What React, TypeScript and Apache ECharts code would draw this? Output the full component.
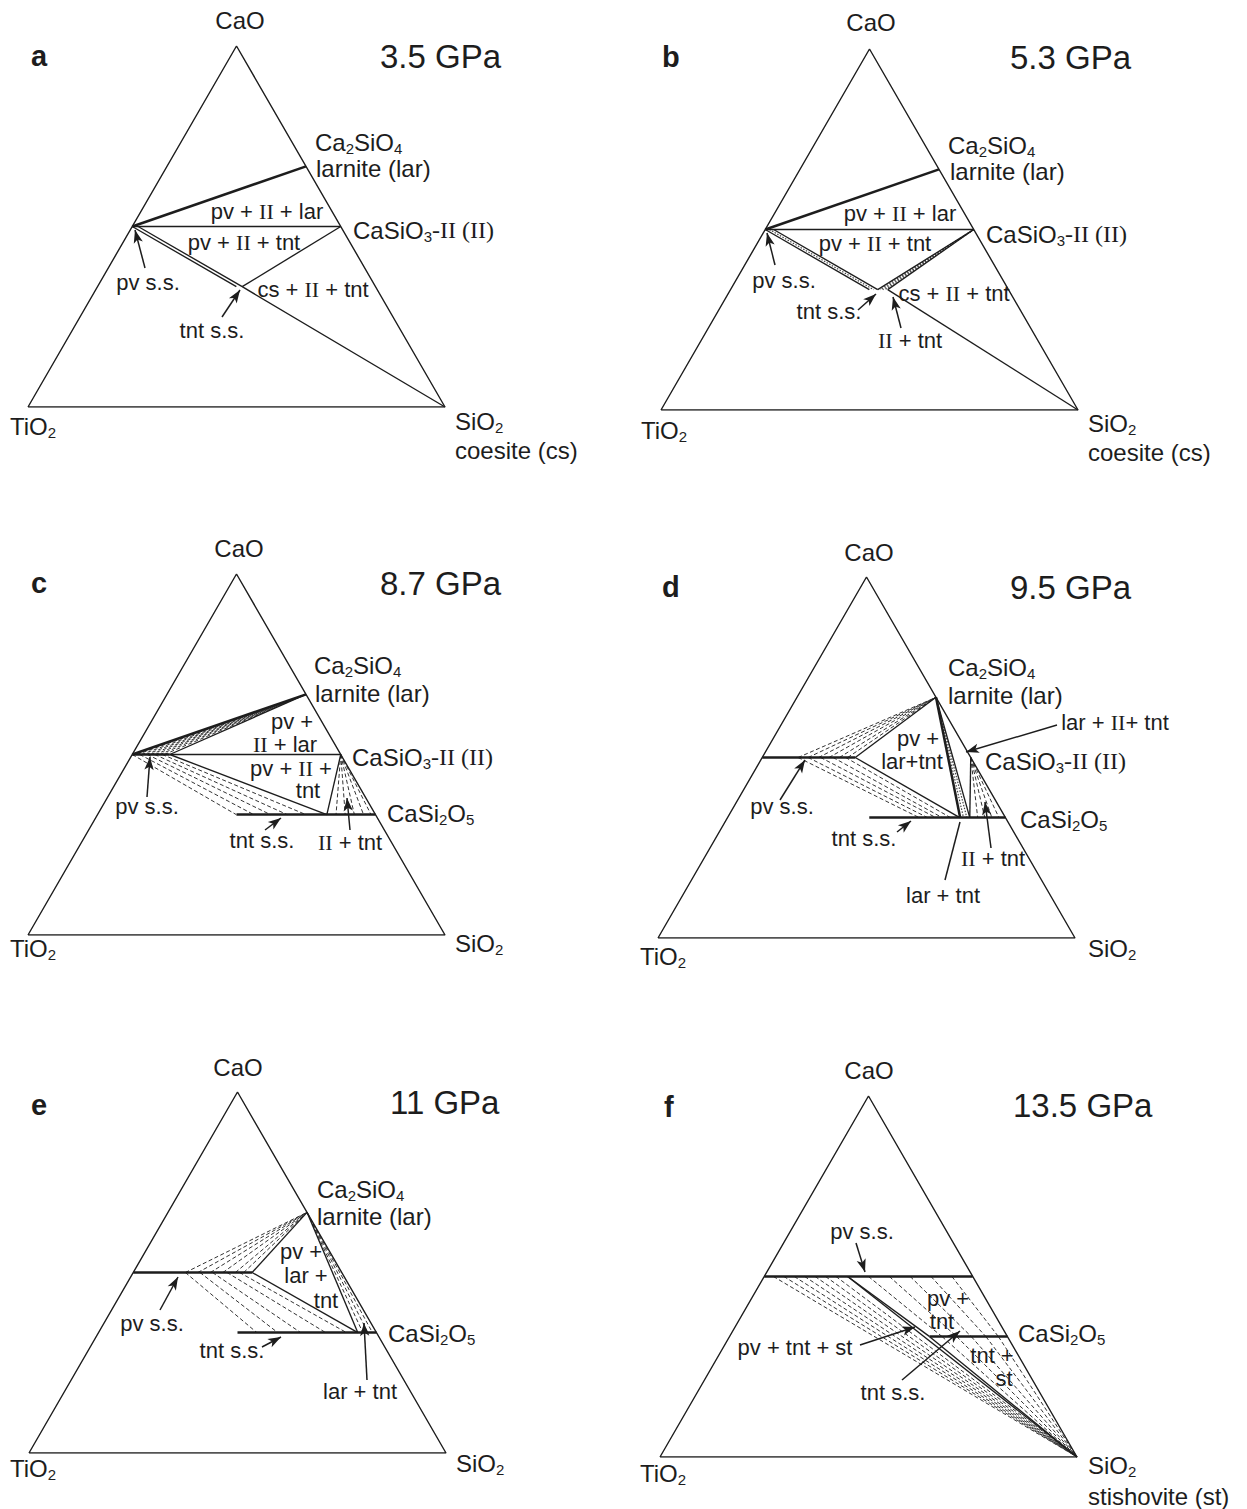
import React, { useEffect, useRef } from "react";
import * as echarts from "echarts";

type Comp = [number, number]; // [CaO, SiO2] mole fractions; TiO2 = 1 - CaO - SiO2

// ---- end-members and stoichiometric phases ----
const TIO2: Comp = [0, 0];
const SIO2: Comp = [0, 1];
const CAO: Comp = [1, 0];
const CATIO3: Comp = [0.5, 0];
const CASIO3: Comp = [0.5, 0.5];
const CA2SIO4: Comp = [2 / 3, 1 / 3];
const CASI2O5: Comp = [1 / 3, 2 / 3];

// solid solutions: perovskite on CaO = 1/2, titanite on CaO = 1/3 (argument = SiO2)
const pv = (si: number): Comp => [0.5, si];
const tn = (si: number): Comp => [1 / 3, si];

const PRESSURES = ["3.5 GPa", "5.3 GPa", "8.7 GPa", "9.5 GPa", "11 GPa", "13.5 GPa"];
const LETTERS = ["a", "b", "c", "d", "e", "f"];

// ---- panel a : 3.5 GPa ----
const aBold: Comp[][] = [[CATIO3, CA2SIO4]];
const aSolid: Comp[][] = [
  [CATIO3, CASIO3],
  [tn(0.347), CASIO3],
  [tn(0.347), SIO2],
  [pv(0), tn(0.333)],
  [pv(0.014), tn(0.347)],
];

// ---- panel b : 5.3 GPa ----
const bBold: Comp[][] = [[CATIO3, CA2SIO4]];
const bSolid: Comp[][] = [
  [CATIO3, CASIO3],
  [tn(0.377), SIO2],
  [pv(0), tn(0.333)],
  [pv(0.02), tn(0.353)],
  [CASIO3, tn(0.353)],
  [CASIO3, tn(0.377)],
];
const bStipple: Comp[][] = [
  [pv(0.01), tn(0.343)],
  [CASIO3, tn(0.359)],
  [CASIO3, tn(0.365)],
  [CASIO3, tn(0.371)],
];

// ---- panel c : 8.7 GPa ----
const cBold: Comp[][] = [[pv(0), pv(0.09)], [tn(1 / 3), CASI2O5], [CATIO3, CA2SIO4]];
const cSolid: Comp[][] = [
  [pv(0.09), CASIO3],
  [pv(0.09), CA2SIO4],
  [pv(0.09), tn(0.55)],
  [CASIO3, tn(0.55)],
];
const cPvLar = [0.011, 0.022, 0.033, 0.044, 0.055, 0.066, 0.077];
const cPvTnt: [number, number][] = [[0, 0.333], [0.018, 0.375], [0.036, 0.415], [0.054, 0.455], [0.072, 0.5]];
const cIITnt = [0.572, 0.594, 0.616, 0.638, 0.656];

// ---- panel d : 9.5 GPa ----
const dBold: Comp[][] = [[pv(0), pv(0.223)], [tn(0.34), CASI2O5], [CA2SIO4, tn(0.558)]];
const dSolid: Comp[][] = [
  [pv(0.223), CA2SIO4],
  [pv(0.223), tn(0.557)],
  [CA2SIO4, tn(0.581)],
  [CASIO3, tn(0.581)],
];
const dPvLar = [0.086, 0.11, 0.135, 0.16, 0.185, 0.205];
const dPvTnt: [number, number][] = [[0.086, 0.46], [0.11, 0.48], [0.14, 0.5], [0.17, 0.515], [0.2, 0.535]];
const dLarTnt = [0.566, 0.574];
const dIITnt = [0.6, 0.617, 0.634, 0.651];

// ---- panel e : 11 GPa ----
const eBold: Comp[][] = [[pv(0), pv(0.285)], [tn(1 / 3), CASI2O5]];
const eSolid: Comp[][] = [
  [pv(0.285), CA2SIO4],
  [pv(0.285), tn(0.622)],
  [CA2SIO4, tn(0.622)],
];
const ePvLar = [0.125, 0.155, 0.185, 0.215, 0.245, 0.265];
const ePvTnt: [number, number][] = [[0.125, 0.38], [0.16, 0.43], [0.19, 0.485], [0.225, 0.545], [0.255, 0.595]];
const eLarTnt = [0.634, 0.646, 0.657];

// ---- panel f : 13.5 GPa ----
const fBold: Comp[][] = [[pv(0), CASIO3], [tn(0.48), CASI2O5]];
const fSolid: Comp[][] = [
  [pv(0.2), SIO2],
  [pv(0.2), tn(0.48)],
  [tn(0.48), SIO2],
];
const fPvSt = [0.022, 0.047, 0.072, 0.097, 0.122, 0.147, 0.172];
const fPvTnt: [number, number][] = [[0.25, 0.51], [0.3, 0.545], [0.35, 0.58], [0.4, 0.615], [0.45, 0.645]];
const fTntSt = [0.51, 0.545, 0.58, 0.615, 0.645];

const fanTo = (from: (s: number) => Comp, sis: number[], to: Comp): Comp[][] => sis.map((s) => [from(s), to]);
const fanFrom = (from: Comp, to: (s: number) => Comp, sis: number[]): Comp[][] => sis.map((s) => [from, to(s)]);
const pairs = (list: [number, number][]): Comp[][] => list.map(([p, t]) => [pv(p), tn(t)]);

const PANEL_LINES = [
  { bold: aBold, solid: aSolid, dashed: [] as Comp[][], stipple: [] as Comp[][] },
  { bold: bBold, solid: bSolid, dashed: [] as Comp[][], stipple: bStipple },
  {
    bold: cBold,
    solid: cSolid,
    dashed: [...fanTo(pv, cPvLar, CA2SIO4), ...pairs(cPvTnt), ...fanFrom(CASIO3, tn, cIITnt)],
    stipple: [] as Comp[][],
  },
  {
    bold: dBold,
    solid: dSolid,
    dashed: [...fanTo(pv, dPvLar, CA2SIO4), ...pairs(dPvTnt), ...fanFrom(CASIO3, tn, dIITnt)],
    stipple: fanFrom(CA2SIO4, tn, dLarTnt),
  },
  {
    bold: eBold,
    solid: eSolid,
    dashed: [...fanTo(pv, ePvLar, CA2SIO4), ...pairs(ePvTnt), ...fanFrom(CA2SIO4, tn, eLarTnt)],
    stipple: [] as Comp[][],
  },
  {
    bold: fBold,
    solid: fSolid,
    dashed: [...fanTo(pv, fPvSt, SIO2), ...pairs(fPvTnt), ...fanTo(tn, fTntSt, SIO2)],
    stipple: [] as Comp[][],
  },
];

// ---- layout (pixel boxes of each triangle) ----
const BOXES = [
  { left: 28, top: 46, width: 417, height: 361 },
  { left: 661, top: 49, width: 417, height: 361 },
  { left: 28, top: 574, width: 417, height: 361 },
  { left: 658, top: 577, width: 417, height: 361 },
  { left: 29, top: 1092, width: 417, height: 361 },
  { left: 660, top: 1096, width: 417, height: 361 },
];

// arrows: [x1, y1, x2(tip), y2(tip), head?]
const ARROWS: [number, number, number, number, boolean][][] = [
  [[145, 268, 135, 230, true], [222, 317, 240, 290, true]],
  [[775, 265, 767, 233, true], [858, 310, 876, 294, true], [901, 328, 893, 297, true]],
  [[147, 797, 150, 757, true], [265, 830, 281, 818, true], [350, 830, 347, 798, true]],
  [[780, 800, 805, 760, true], [897, 832, 911, 821, true], [1057, 725, 966, 752, true], [991, 848, 985, 802, true], [945, 880, 960, 822, false]],
  [[160, 1310, 178, 1277, true], [262, 1347, 281, 1337, true], [367, 1380, 364, 1323, true]],
  [[856, 1243, 865, 1272, true], [860, 1345, 915, 1327, true], [902, 1380, 960, 1331, true]],
];

const INK = "#1d1d1d";
const SANS = "Liberation Sans";
const SERIF = "Liberation Serif";
const NB = "\u00A0";

const T_CA2SIO4 = "{n|Ca}{s|2}{n|SiO}{s|4}";
const T_CASIO3 = "{n|CaSiO}{s|3}{r|-II (II)}";
const T_CASI2O5 = "{n|CaSi}{s|2}{n|O}{s|5}";
const T_TIO2 = "{n|TiO}{s|2}";
const T_SIO2 = "{n|SiO}{s|2}";
const f = (s: string) => `{f|${s}}`;
const PV_II_LAR = `{f|pv +${NB}}{q|II}{f|${NB}+ lar}`;
const PV_II_TNT = `{f|pv +${NB}}{q|II}{f|${NB}+ tnt}`;
const CS_II_TNT = `{f|cs +${NB}}{q|II}{f|${NB}+ tnt}`;
const II_TNT = `{q|II}{f|${NB}+ tnt}`;

// labels: [markup, x, y, align]
const LABELS: [string, number, number, string][][] = [
  [
    ["{n|CaO}", 240, 20, "center"], [T_CA2SIO4, 315, 142, "left"], ["{n|larnite (lar)}", 316, 168, "left"],
    [T_CASIO3, 353, 230, "left"], [PV_II_LAR, 267, 211, "center"], [PV_II_TNT, 244, 242, "center"],
    [CS_II_TNT, 313, 289, "center"], [f("pv s.s."), 148, 282, "center"], [f("tnt s.s."), 212, 330, "center"],
    [T_TIO2, 10, 426, "left"], [T_SIO2, 455, 421, "left"], ["{n|coesite (cs)}", 455, 450, "left"],
  ],
  [
    ["{n|CaO}", 871, 22, "center"], [T_CA2SIO4, 948, 145, "left"], ["{n|larnite (lar)}", 950, 171, "left"],
    [T_CASIO3, 986, 234, "left"], [PV_II_LAR, 900, 213, "center"], [PV_II_TNT, 875, 243, "center"],
    [f("pv s.s."), 784, 280, "center"], [f("tnt s.s."), 829, 311, "center"], [CS_II_TNT, 954, 293, "center"],
    [II_TNT, 910, 340, "center"],
    [T_TIO2, 641, 430, "left"], [T_SIO2, 1088, 423, "left"], ["{n|coesite (cs)}", 1088, 452, "left"],
  ],
  [
    ["{n|CaO}", 239, 548, "center"], [T_CA2SIO4, 314, 665, "left"], ["{n|larnite (lar)}", 315, 693, "left"],
    [T_CASIO3, 352, 757, "left"], [T_CASI2O5, 387, 813, "left"], [f("pv +"), 292, 721, "center"],
    [`{q|II}{f|${NB}+ lar}`, 285, 744, "center"], [`{f|pv +${NB}}{q|II}{f|${NB}+}`, 291, 768, "center"],
    [f("tnt"), 308, 790, "center"], [f("pv s.s."), 147, 806, "center"], [f("tnt s.s."), 262, 840, "center"],
    [II_TNT, 350, 842, "center"],
    [T_TIO2, 10, 948, "left"], [T_SIO2, 455, 943, "left"],
  ],
  [
    ["{n|CaO}", 869, 552, "center"], [T_CA2SIO4, 948, 667, "left"], ["{n|larnite (lar)}", 948, 695, "left"],
    [`{f|lar +${NB}}{q|II}{f|+ tnt}`, 1115, 722, "center"], [f("pv +"), 918, 738, "center"],
    [f("lar+tnt"), 912, 761, "center"], [T_CASIO3, 985, 761, "left"], [f("pv s.s."), 782, 806, "center"],
    [T_CASI2O5, 1020, 819, "left"], [f("tnt s.s."), 864, 838, "center"], [II_TNT, 993, 858, "center"],
    [f("lar + tnt"), 943, 895, "center"],
    [T_TIO2, 640, 956, "left"], [T_SIO2, 1088, 948, "left"],
  ],
  [
    ["{n|CaO}", 238, 1067, "center"], [T_CA2SIO4, 317, 1189, "left"], ["{n|larnite (lar)}", 317, 1216, "left"],
    [f("pv +"), 301, 1251, "center"], [f("lar +"), 306, 1275, "center"], [f("tnt"), 326, 1300, "center"],
    [f("pv s.s."), 152, 1323, "center"], [T_CASI2O5, 388, 1333, "left"], [f("tnt s.s."), 232, 1350, "center"],
    [f("lar + tnt"), 360, 1391, "center"],
    [T_TIO2, 10, 1468, "left"], [T_SIO2, 456, 1463, "left"],
  ],
  [
    ["{n|CaO}", 869, 1070, "center"], [f("pv s.s."), 862, 1231, "center"], [f("pv +"), 948, 1298, "center"],
    [f("tnt"), 942, 1321, "center"], [T_CASI2O5, 1018, 1333, "left"], [f("pv + tnt + st"), 795, 1347, "center"],
    [f("tnt +"), 992, 1355, "center"], [f("st"), 1004, 1378, "center"], [f("tnt s.s."), 893, 1392, "center"],
    [T_TIO2, 640, 1473, "left"], [T_SIO2, 1088, 1465, "left"], ["{n|stishovite (st)}", 1088, 1496, "left"],
  ],
];
const LETTER_POS: [number, number][] = [[31, 56], [662, 57], [31, 583], [662, 587], [31, 1105], [664, 1107]];
const TITLE_POS: [number, number][] = [[380, 56], [1010, 57], [380, 583], [1010, 587], [390, 1102], [1013, 1105]];

const RICH: any = {
  n: { fontFamily: SANS, fontSize: 24, lineHeight: 28, fill: INK },
  f: { fontFamily: SANS, fontSize: 22, lineHeight: 28, fill: INK },
  s: { fontFamily: SANS, fontSize: 15, lineHeight: 14, verticalAlign: "bottom", fill: INK },
  r: { fontFamily: SERIF, fontSize: 24, lineHeight: 28, fill: INK },
  q: { fontFamily: SERIF, fontSize: 22, lineHeight: 28, fill: INK },
  t: { fontFamily: SANS, fontSize: 33, lineHeight: 38, fill: INK },
  b: { fontFamily: SANS, fontSize: 29, fontWeight: "bold", lineHeight: 34, fill: INK },
};

// ternary composition -> cartesian value in the unit box of each grid
const toXY = (c: Comp): [number, number] => [c[1] + c[0] / 2, c[0]];

const textEl = (markup: string, x: number, y: number, align: string) => ({
  type: "text",
  x,
  y,
  silent: true,
  z: 100,
  style: {
    text: markup,
    rich: RICH,
    fill: INK,
    fontFamily: SANS,
    fontSize: 22,
    align,
    textAlign: align,
    verticalAlign: "middle",
    textVerticalAlign: "middle",
  },
});

export default function App() {
  const ref = useRef<HTMLDivElement>(null);
  useEffect(() => {
    if (!ref.current) return;
    const chart = echarts.init(ref.current, undefined, { renderer: "svg" });
    const grid: any[] = [];
    const xAxis: any[] = [];
    const yAxis: any[] = [];
    const series: any[] = [];
    const graphic: any[] = [];

    BOXES.forEach((b, i) => {
      grid.push({ ...b, show: false, containLabel: false });
      xAxis.push({ type: "value", gridIndex: i, min: 0, max: 1, show: false });
      yAxis.push({ type: "value", gridIndex: i, min: 0, max: 1, show: false });
      const L = PANEL_LINES[i];
      const mk = (segs: Comp[][], style: any, z: number) => ({
        type: "lines",
        coordinateSystem: "cartesian2d",
        xAxisIndex: i,
        yAxisIndex: i,
        polyline: false,
        silent: true,
        z,
        lineStyle: { color: INK, opacity: 1, ...style },
        data: segs.map((s) => ({ coords: s.map(toXY) })),
      });
      series.push(mk(L.dashed, { width: 1, type: [4, 2.5], color: "#333" }, 2));
      series.push(mk(L.stipple, { width: 1.2, type: [1.5, 1.5], color: "#444" }, 2));
      series.push(mk(L.solid, { width: 1.35 }, 3));
      series.push(mk(L.bold, { width: 2.5 }, 4));
      series.push({
        type: "line",
        xAxisIndex: i,
        yAxisIndex: i,
        symbol: "none",
        silent: true,
        z: 5,
        lineStyle: { color: INK, width: 1.4 },
        data: [TIO2, SIO2, CAO, TIO2].map(toXY),
        markLine: {
          silent: true,
          animation: false,
          symbol: ["none", "arrow"],
          symbolSize: [7, 13],
          label: { show: false },
          emphasis: { disabled: true },
          lineStyle: { color: INK, width: 1.5, type: "solid" },
          data: ARROWS[i].map(([x1, y1, x2, y2, head]) => [
            { x: x1, y: y1, symbol: "none" },
            { x: x2, y: y2, symbol: head ? "arrow" : "none" },
          ]),
        },
      });
      LABELS[i].forEach(([m, x, y, a]) => graphic.push(textEl(m, x, y, a)));
      graphic.push(textEl(`{b|${LETTERS[i]}}`, LETTER_POS[i][0], LETTER_POS[i][1], "left"));
      graphic.push(textEl(`{t|${PRESSURES[i]}}`, TITLE_POS[i][0], TITLE_POS[i][1], "left"));
    });

    chart.setOption({
      animation: false,
      backgroundColor: "#ffffff",
      grid,
      xAxis,
      yAxis,
      series,
      graphic: { elements: graphic },
    });
    return () => chart.dispose();
  }, []);
  return <div ref={ref} style={{ position: "absolute", left: 0, top: 0, width: 1247, height: 1509 }} />;
}
